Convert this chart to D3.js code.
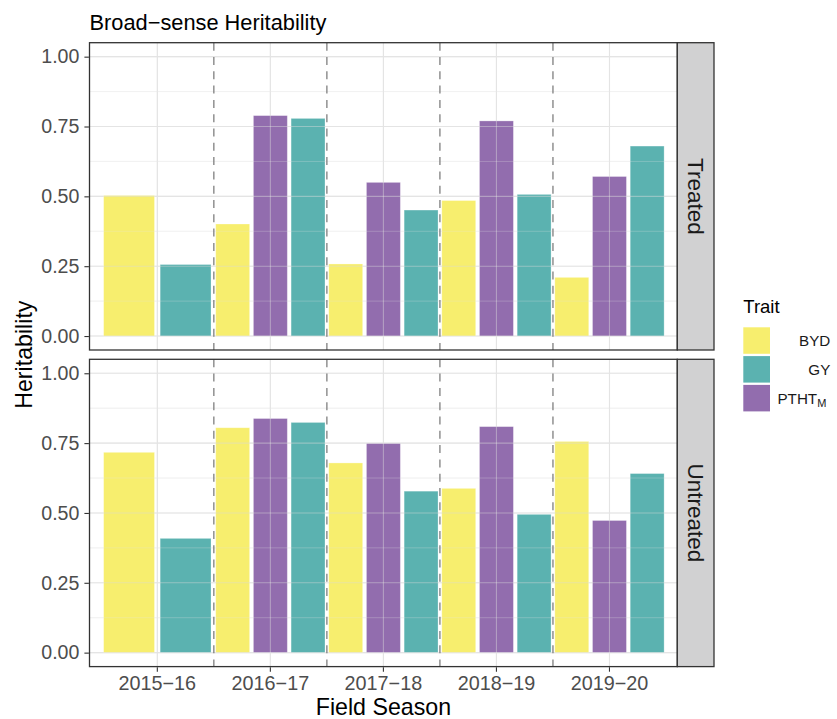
<!DOCTYPE html>
<html>
<head>
<meta charset="utf-8">
<script src="https://cdn.jsdelivr.net/npm/d3@7"></script>
<style>
    body { margin: 0; background: white; }
    text { font-family: "Liberation Sans", Arial, Helvetica, sans-serif; }
</style>
</head>
<body>
<div id="chart"></div>
<script>
// heritability facets chart

let seasons = ["2015\u221216", "2016\u221217", "2017\u221218", "2018\u221219", "2019\u221220"];
let traits = ["BYD", "GY", "PTHT"];            // legend order
let dodgeOrder = ["BYD", "PTHT", "GY"];         // order of bars inside a season
let panels = ["Treated", "Untreated"];
let yTicks = [0, 0.25, 0.5, 0.75, 1];
let yMinor = [0.125, 0.375, 0.625, 0.875];

// null = trait not measured that season
let treatedBYD = [0.503, 0.401, 0.258, 0.485, 0.210];
let treatedPTHT = [null, 0.789, 0.550, 0.770, 0.571];
let treatedGY = [0.256, 0.779, 0.451, 0.507, 0.680];

let untreatedBYD = [0.717, 0.805, 0.679, 0.588, 0.756];
let untreatedPTHT = [null, 0.838, 0.749, 0.809, 0.473];
let untreatedGY = [0.409, 0.824, 0.578, 0.495, 0.641];

let values = {
    Treated: { BYD: treatedBYD, PTHT: treatedPTHT, GY: treatedGY },
    Untreated: { BYD: untreatedBYD, PTHT: untreatedPTHT, GY: untreatedGY }
};

let colors = { BYD: "#F4E83E", GY: "#249896", PTHT: "#6D3C93" };
let fillAlpha = 0.75;

let width = 837, height = 719;
let left = 89.5, right = 677.3;
let panelTops = [42.7, 359.3];
let panelH = 307.3;
let stripW = 36.7;

let svg = d3.select("#chart")
    .append("svg")
    .attr("width", width)
    .attr("height", height);

let x = d3.scaleBand()
    .domain(seasons)
    .range([left, right])
    .paddingInner(0)
    .paddingOuter(0.1);

// build the bar records (dodge2 style, padding 0.1)
let bars = [];
panels.forEach((p) => {
    seasons.forEach((s, i) => {
        let present = dodgeOrder.filter((t) => values[p][t][i] != null);
        present.forEach((t, j) => {
            bars.push({ panel: p, season: s, trait: t, value: values[p][t][i], slot: j, n: present.length });
        });
    });
});

function drawGrid(g, y, top, opacity) {
    g.selectAll(null)
        .data(yMinor)
        .enter().append("line")
        .attr("x1", left).attr("x2", right)
        .attr("y1", (d) => y(d)).attr("y2", (d) => y(d))
        .attr("stroke", "#EBEBEB")
        .attr("stroke-opacity", opacity)
        .attr("stroke-width", 0.6);

    g.selectAll(null)
        .data(yTicks)
        .enter().append("line")
        .attr("x1", left).attr("x2", right)
        .attr("y1", (d) => y(d)).attr("y2", (d) => y(d))
        .attr("stroke", "#E4E4E4")
        .attr("stroke-opacity", opacity)
        .attr("stroke-width", 1.1);

    g.selectAll(null)
        .data(seasons)
        .enter().append("line")
        .attr("x1", (d) => x(d) + x.bandwidth() / 2)
        .attr("x2", (d) => x(d) + x.bandwidth() / 2)
        .attr("y1", top).attr("y2", top + panelH)
        .attr("stroke", "#E4E4E4")
        .attr("stroke-opacity", opacity)
        .attr("stroke-width", 1.1);
}

panels.forEach((p, pi) => {
    let top = panelTops[pi];
    let y = d3.scaleLinear()
        .domain([-0.05, 1.05])
        .range([top + panelH, top]);

    let g = svg.append("g").attr("class", "panel");

    drawGrid(g.append("g"), y, top, 1);

    // bars
    g.selectAll(".bar")
        .data(bars.filter((d) => d.panel == p))
        .enter().append("rect")
        .attr("x", (d) => {
            let slotW = x.bandwidth() / d.n;
            return x(d.season) + slotW * d.slot + slotW * 0.05;
        })
        .attr("width", (d) => x.bandwidth() / d.n * 0.9)
        .attr("y", (d) => y(d.value))
        .attr("height", (d) => y(0) - y(d.value))
        .attr("fill", (d) => colors[d.trait])
        .attr("fill-opacity", fillAlpha)
        .attr("stroke", "white")
        .attr("stroke-opacity", 0.35)
        .attr("stroke-width", 0.8);

    // grid shows faintly over the bars
    drawGrid(g.append("g"), y, top, 0.45);

    // dashed season separators
    g.selectAll(".sep")
        .data(seasons.slice(1))
        .enter().append("line")
        .attr("x1", (d) => x(d)).attr("x2", (d) => x(d))
        .attr("y1", top).attr("y2", top + panelH)
        .attr("stroke", "#7F7F7F")
        .attr("stroke-width", 1.3)
        .attr("stroke-dasharray", "8,6.3");

    // panel border
    g.append("rect")
        .attr("x", left).attr("y", top)
        .attr("width", right - left).attr("height", panelH)
        .attr("fill", "none")
        .attr("stroke", "#333333")
        .attr("stroke-width", 1.3);

    // strip
    g.append("rect")
        .attr("x", right).attr("y", top)
        .attr("width", stripW).attr("height", panelH)
        .attr("fill", "#D1D1D2")
        .attr("stroke", "#333333")
        .attr("stroke-width", 1.3);

    g.append("text")
        .attr("transform", "translate(" + (right + stripW / 2) + "," + (top + panelH / 2) + ") rotate(90)")
        .attr("text-anchor", "middle")
        .attr("dy", "0.35em")
        .style("font-size", "22.5px")
        .style("fill", "#1A1A1A")
        .text(p);

    // y axis
    let yAxis = d3.axisLeft(y)
        .tickValues(yTicks)
        .tickFormat(d3.format(".2f"))
        .tickSize(4.5)
        .tickPadding(5);

    let ya = g.append("g")
        .attr("transform", "translate(" + (left - 0.6) + ",0)")
        .call(yAxis);
    ya.select(".domain").remove();
    ya.selectAll("line").attr("stroke", "#333333").attr("stroke-width", 1.1);
    ya.selectAll("text")
        .style("font-size", "19.6px")
        .style("font-family", "'Liberation Sans', Arial, sans-serif")
        .attr("fill", "#4D4D4D");

    // x axis only under the bottom panel
    if (pi == panels.length - 1) {
        let xAxis = d3.axisBottom(x)
            .tickSize(4.5)
            .tickPadding(4);
        let xa = g.append("g")
            .attr("transform", "translate(0," + (top + panelH + 0.6) + ")")
            .call(xAxis);
        xa.select(".domain").remove();
        xa.selectAll("line").attr("stroke", "#333333").attr("stroke-width", 1.1);
        xa.selectAll("text")
            .style("font-size", "19.8px")
            .style("font-family", "'Liberation Sans', Arial, sans-serif")
            .attr("fill", "#4D4D4D");
    }
});

// titles
svg.append("text")
    .attr("x", left)
    .attr("y", 30)
    .style("font-size", "21.8px")
    .style("fill", "#000")
    .text("Broad\u2212sense Heritability");

svg.append("text")
    .attr("x", (left + right) / 2)
    .attr("y", 715)
    .attr("text-anchor", "middle")
    .style("font-size", "23.2px")
    .style("fill", "#000")
    .text("Field Season");

svg.append("text")
    .attr("transform", "translate(32," + ((panelTops[0] + panelTops[1] + panelH) / 2) + ") rotate(-90)")
    .attr("text-anchor", "middle")
    .style("font-size", "23.2px")
    .style("fill", "#000")
    .text("Heritability");

// legend
let legend = svg.append("g").attr("transform", "translate(743.3,0)");

legend.append("text")
    .attr("x", 0)
    .attr("y", 313)
    .style("font-size", "18.5px")
    .style("fill", "#000")
    .text("Trait");

let keyY = d3.scaleBand()
    .domain(traits)
    .range([327.3, 327.3 + 28.8 * traits.length]);

legend.selectAll(".key")
    .data(traits)
    .enter().append("rect")
    .attr("x", 0)
    .attr("y", (d) => keyY(d))
    .attr("width", 26.7)
    .attr("height", 26.5)
    .attr("fill", (d) => colors[d])
    .attr("fill-opacity", fillAlpha);

let labels = legend.selectAll(".lab")
    .data(traits)
    .enter().append("text")
    .attr("x", (d) => d == "PTHT" ? 83 : 87)
    .attr("y", (d) => keyY(d) + 13.3)
    .attr("dy", "0.35em")
    .attr("text-anchor", "end")
    .style("font-size", "15.2px")
    .style("fill", "#1A1A1A");

labels.append("tspan").text((d) => d);
labels.filter((d) => d == "PTHT")
    .append("tspan")
    .attr("dy", "3.5")
    .style("font-size", "11px")
    .text("M");
</script>
</body>
</html>
